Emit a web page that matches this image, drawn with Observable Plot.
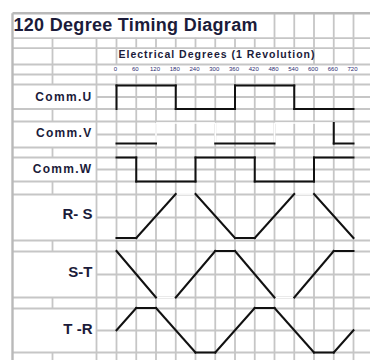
<!DOCTYPE html>
<html><head><meta charset="utf-8">
<script src="https://cdn.jsdelivr.net/npm/d3@7"></script>
<script src="https://cdn.jsdelivr.net/npm/@observablehq/plot@0.6"></script>
<style>
html,body{margin:0;padding:0;background:#fff;}
#chart svg{display:block;}
</style></head><body><div id="chart"></div>
<script>
// ---------------- data ----------------
const title = "120 Degree Timing Diagram";
const axisTitle = "Electrical Degrees (1 Revolution)";
const degreeTicks = [0, 60, 120, 180, 240, 300, 360, 420, 480, 540, 600, 660, 720];
const commNames = ["Comm.U", "Comm.V", "Comm.W"];
const phaseNames = ["R- S", "S-T", "T -R"];

// breakpoints in electrical degrees, level 0 = low, 1 = high,
// vis: 1 = drawn black, 0 = drawn white (hidden) for the segment starting at that point
const commU_deg = [0, 0, 180, 180, 360, 360, 540, 540, 720];
const commU_lvl = [0, 1, 1, 0, 0, 1, 1, 0, 0];
const commU_vis = [1, 1, 1, 1, 1, 1, 1, 1];

const commV_deg = [0, 120, 120, 300, 300, 480, 480, 660, 660, 720];
const commV_lvl = [0, 0, 1, 1, 0, 0, 1, 1, 0, 0];
const commV_vis = [1, 0, 0, 0, 1, 0, 0, 1, 1];

const commW_deg = [0, 60, 60, 240, 240, 420, 420, 600, 600, 720];
const commW_lvl = [1, 1, 0, 0, 1, 1, 0, 0, 1, 1];
const commW_vis = [1, 1, 1, 1, 1, 1, 1, 1, 1];

const rs_deg = [0, 60, 180, 240, 360, 420, 540, 600, 720];
const rs_lvl = [0, 0, 1, 1, 0, 0, 1, 1, 0];
const rs_vis = [1, 1, 0, 1, 1, 1, 0, 1];

const st_deg = [0, 120, 180, 300, 360, 480, 540, 660, 720];
const st_lvl = [1, 0, 0, 1, 1, 0, 0, 1, 1];
const st_vis = [1, 0, 1, 1, 1, 0, 1, 1];

const tr_deg = [0, 60, 120, 240, 300, 420, 480, 600, 660, 720];
const tr_lvl = [0.5, 1, 1, 0, 0, 1, 1, 0, 0, 0.5];
const tr_vis = [1, 1, 1, 1, 1, 1, 1, 1, 1];

// ---------------- layout (sheet geometry, px) ----------------
const W = 370, H = 360;
const wave0 = 116, colW = 19.75;           // 0 deg column edge, one column = 60 deg
const X = px => (px - wave0) * 60 / colW;  // px -> degrees (x scale domain units)
const colsPx = [12, 52, 96, ...d3.range(14).map(i => wave0 + i * colW)];
const rowLines = [12.7, 37.7, 47.7, 64, 74, 84, 108.5, 121, 147, 157, 181, 194, 240, 251, 297, 308, 352];
const midLines = [96.5, 134, 169, 217, 274, 330];
const labelBands = [[84,108.5],[121,147],[157,181],[194,240],[251,297],[308,352]];
const bands = {
  U:[85,108.5], V:[122.5,143], W:[157,181], RS:[193.5,237.5], ST:[250.5,297], TR:[307.5,352]
};

// vertical grid segments
const vSegs = [];
const rowEdges = [...rowLines, H];
for (let r = 0; r < rowEdges.length - 1; r++) {
  const y1 = rowEdges[r], y2 = rowEdges[r + 1];
  const isLabel = labelBands.some(b => b[0] === y1);
  for (const c of colsPx) {
    let draw = true;
    if (r === 0) draw = c >= 273;                       // merged title cell
    else if (r === 2) draw = c <= 116 || c >= 313;      // merged axis-title cell
    else if (r === 3) draw = c <= 96;                   // tick label row
    else if (isLabel && c === 52) draw = false;         // merged label cells
    if (c === 12) draw = false;                          // border drawn separately
    if (draw) vSegs.push({x: X(c), y1, y2});
  }
}
const hSegs = [
  ...rowLines.slice(1).map(y => ({y, x1: X(12), x2: X(W)})),
  ...midLines.map(y => ({y, x1: X(96), x2: X(W)}))
];
const border = [
  {x1: X(12), y1: 12.7, x2: X(W), y2: 12.7},
  {x1: X(12), y1: 12.7, x2: X(12), y2: H}
];

// waveform segments
function segs(deg, lvl, vis, band) {
  const [top, bot] = band;
  const yy = v => bot - v * (bot - top);
  const out = [];
  for (let i = 0; i < deg.length - 1; i++) {
    out.push({x1: deg[i], y1: yy(lvl[i]), x2: deg[i + 1], y2: yy(lvl[i + 1]), vis: vis[i]});
  }
  return out;
}
const wave = [
  ...segs(commU_deg, commU_lvl, commU_vis, bands.U),
  ...segs(commV_deg, commV_lvl, commV_vis, bands.V),
  ...segs(commW_deg, commW_lvl, commW_vis, bands.W),
  ...segs(rs_deg, rs_lvl, rs_vis, bands.RS),
  ...segs(st_deg, st_lvl, st_vis, bands.ST),
  ...segs(tr_deg, tr_lvl, tr_vis, bands.TR)
];

const commLabels = commNames.map((t, i) => ({t, y: [97, 133, 169][i]}));
const phaseLabels = phaseNames.map((t, i) => ({t, y: [214, 272, 329][i]}));
const ink = "#1b1b3a";
const font = "Liberation Sans, Arial, sans-serif";

const svg = Plot.plot({
  width: W, height: H, margin: 0,
  x: {domain: [X(0), X(W)], range: [0, W]},
  y: {domain: [0, H], range: [0, H]},
  axis: null,
  style: {background: "#fff", fontFamily: font},
  marks: [
    Plot.ruleX(vSegs, {x: "x", y1: "y1", y2: "y2", stroke: "#c6c6c6", strokeWidth: 1.8}),
    Plot.ruleY(hSegs, {y: "y", x1: "x1", x2: "x2", stroke: "#c6c6c6", strokeWidth: 1.8}),
    Plot.link(border, {x1: "x1", y1: "y1", x2: "x2", y2: "y2", stroke: "#b9b9b9", strokeWidth: 2.4}),
    Plot.link(wave.filter(d => !d.vis), {x1: "x1", y1: "y1", x2: "x2", y2: "y2", stroke: "#fff", strokeWidth: 1.6}),
    Plot.link(wave.filter(d => d.vis), {x1: "x1", y1: "y1", x2: "x2", y2: "y2", stroke: "#111", strokeWidth: 2, strokeLinecap: "square"}),
    Plot.text([title], {x: X(13), y: 30, text: d => d, textAnchor: "start", lineAnchor: "bottom",
      fontSize: 18, fontWeight: "bold", fill: ink}),
    Plot.text([axisTitle], {x: X(118), y: 57.5, text: d => d, textAnchor: "start", lineAnchor: "bottom",
      fontSize: 10.5, fontWeight: "bold", fill: ink}),
    Plot.text(degreeTicks, {x: d => d - 3, y: 69, text: d => String(d), textAnchor: "middle", lineAnchor: "middle",
      fontSize: 6, fill: "#2a2a70"}),
    Plot.text(commLabels, {x: X(92), y: "y", text: "t", textAnchor: "end", lineAnchor: "middle",
      fontSize: 12, fontWeight: "bold", fill: ink}),
    Plot.text(phaseLabels, {x: X(92), y: "y", text: "t", textAnchor: "end", lineAnchor: "middle",
      fontSize: 15, fontWeight: "bold", fill: ink})
  ]
});
const sel = d3.select(svg).selectAll("text");
sel.filter(function() { return commNames.includes(this.textContent); }).style("letter-spacing", "1.3px");
sel.filter(function() { return this.textContent === axisTitle; }).style("letter-spacing", "1px");
sel.filter(function() { return this.textContent === title; }).style("letter-spacing", "0.3px");
document.getElementById("chart").appendChild(svg);
</script></body></html>
